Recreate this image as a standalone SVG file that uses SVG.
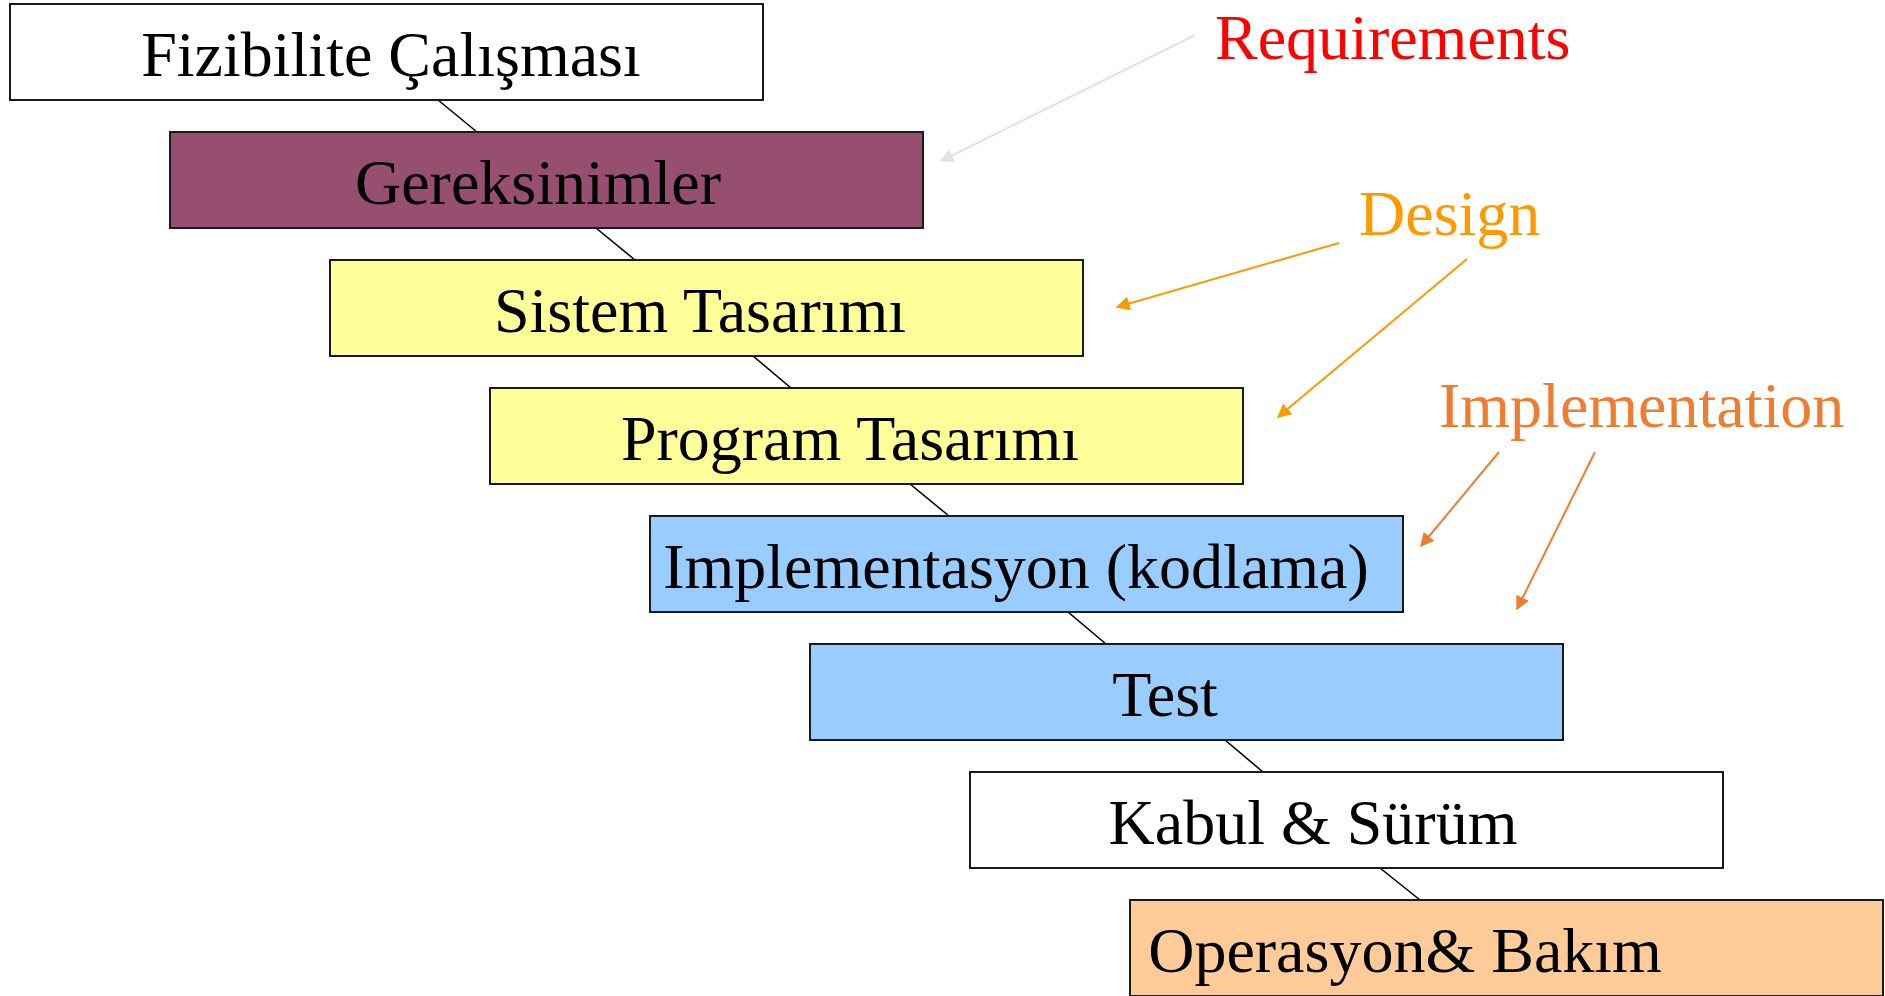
<svg xmlns="http://www.w3.org/2000/svg" width="1885" height="996" viewBox="0 0 1885 996">
<style>
.box{stroke:#1a1a1a;stroke-width:2}
.lbl{font-family:"Liberation Serif","Times New Roman",serif;font-size:64px;fill:#000;text-anchor:middle}
.ann{font-family:"Liberation Serif","Times New Roman",serif;font-size:64px}
.conn{stroke:#000;stroke-width:1.6;fill:none}
</style>
<defs>
<marker id="ahGray" viewBox="0 0 10 10" refX="9" refY="5" markerWidth="7" markerHeight="7" markerUnits="strokeWidth" orient="auto"><path d="M0,0 L10,5 L0,10 z" fill="#e3e3e3"/></marker>
<marker id="ahOrange" viewBox="0 0 10 10" refX="9" refY="5" markerWidth="7" markerHeight="7" markerUnits="strokeWidth" orient="auto"><path d="M0,0 L10,5 L0,10 z" fill="#ff9900"/></marker>
<marker id="ahImpl" viewBox="0 0 10 10" refX="9" refY="5" markerWidth="7" markerHeight="7" markerUnits="strokeWidth" orient="auto"><path d="M0,0 L10,5 L0,10 z" fill="#ed7d31"/></marker>
</defs>
<rect width="1885" height="996" fill="#fff"/>
<g id="connectors">
<line class="conn" x1="438" y1="100" x2="477" y2="132"/>
<line class="conn" x1="596" y1="228" x2="635" y2="260"/>
<line class="conn" x1="753" y1="356" x2="791" y2="388"/>
<line class="conn" x1="910" y1="484" x2="949" y2="516"/>
<line class="conn" x1="1068" y1="612" x2="1106" y2="644"/>
<line class="conn" x1="1225" y1="740" x2="1263" y2="772"/>
<line class="conn" x1="1380" y1="868" x2="1420" y2="900"/>
<line x1="1195" y1="35" x2="941" y2="161" stroke="#e3e3e3" stroke-width="2" marker-end="url(#ahGray)"/>
<line x1="1339" y1="243" x2="1117" y2="307" stroke="#ff9900" stroke-width="2" marker-end="url(#ahOrange)"/>
<line x1="1467" y1="259" x2="1278" y2="417" stroke="#ff9900" stroke-width="2" marker-end="url(#ahOrange)"/>
<line x1="1499" y1="452" x2="1421" y2="546" stroke="#ed7d31" stroke-width="2" marker-end="url(#ahImpl)"/>
<line x1="1595" y1="452" x2="1517" y2="609" stroke="#ed7d31" stroke-width="2" marker-end="url(#ahImpl)"/>
</g>
<g id="n1"><rect class="box" x="10" y="4" width="753" height="96" fill="#ffffff"/><text class="lbl" x="391" y="76">Fizibilite Çalışması</text></g>
<g id="n2"><rect class="box" x="170" y="132" width="753" height="96" fill="#964f70"/><text class="lbl" x="538" y="204">Gereksinimler</text></g>
<g id="n3"><rect class="box" x="330" y="260" width="753" height="96" fill="#ffff99"/><text class="lbl" x="700" y="332">Sistem Tasarımı</text></g>
<g id="n4"><rect class="box" x="490" y="388" width="753" height="96" fill="#ffff99"/><text class="lbl" x="850" y="460">Program Tasarımı</text></g>
<g id="n5"><rect class="box" x="650" y="516" width="753" height="96" fill="#99ccff"/><text class="lbl" x="1016" y="588">Implementasyon (kodlama)</text></g>
<g id="n6"><rect class="box" x="810" y="644" width="753" height="96" fill="#99ccff"/><text class="lbl" x="1165" y="716">Test</text></g>
<g id="n7"><rect class="box" x="970" y="772" width="753" height="96" fill="#ffffff"/><text class="lbl" x="1313" y="844">Kabul &amp; Sürüm</text></g>
<g id="n8"><rect class="box" x="1130" y="900" width="753" height="96" fill="#ffcc99"/><text class="lbl" x="1405" y="972">Operasyon&amp; Bakım</text></g>
<g id="annotations">
<text class="ann" x="1215" y="59" fill="#ff0000">Requirements</text>
<text class="ann" x="1359" y="235" fill="#ff9900">Design</text>
<text class="ann" x="1439" y="427" fill="#ed7d31">Implementation</text>
</g>
</svg>
